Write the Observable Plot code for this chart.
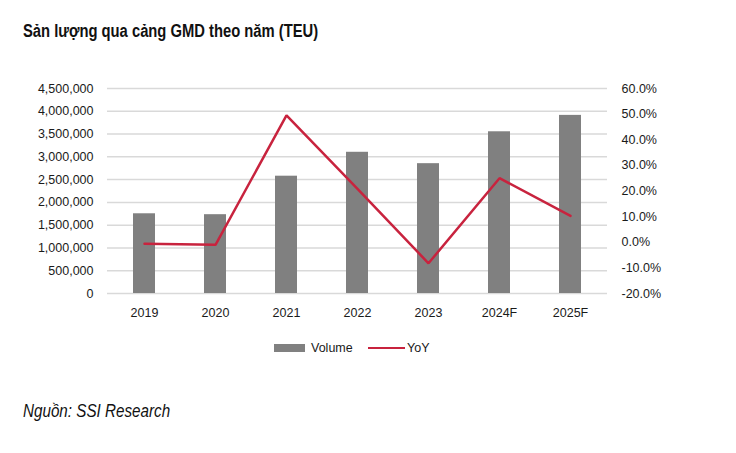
<!DOCTYPE html>
<html>
<head>
<meta charset="utf-8">
<script src="https://cdn.jsdelivr.net/npm/d3@7"></script>
<script src="https://cdn.jsdelivr.net/npm/@observablehq/plot@0.6"></script>
<style>
  html, body { margin: 0; padding: 0; background: #fff; }
  #wrap { position: relative; width: 736px; height: 453px; overflow: hidden; font-family: "Liberation Sans", Arial, sans-serif; color: #1a1a1a; }
  #title { position: absolute; left: 23px; top: 21px; font-family: "Liberation Sans", Arial, sans-serif; font-weight: bold; font-size: 18px; white-space: nowrap; color: #111; transform: scaleX(0.82); transform-origin: 0 50%; }
  #caption { position: absolute; left: 23px; top: 401px; font-family: "Liberation Sans", Arial, sans-serif; font-style: italic; font-size: 18px; white-space: nowrap; color: #111; transform: scaleX(0.845); transform-origin: 0 50%; }
  #chart { position: absolute; left: 0; top: 0; }
  .legend { position: absolute; top: 341px; font-size: 12.5px; display: flex; align-items: center; white-space: nowrap; }
  .sw-bar { display: inline-block; width: 31px; height: 8px; background: #808080; margin-right: 6px; }
  .sw-line { display: inline-block; width: 37px; height: 2.5px; background: #c8233e; margin-right: 2px; }
</style>
</head>
<body>
<div id="wrap">
  <div id="chart"></div>
  <div id="title">Sản lượng qua cảng GMD theo năm (TEU)</div>
  <div class="legend" style="left:274px"><span class="sw-bar"></span>Volume</div>
  <div class="legend" style="left:368px"><span class="sw-line"></span>YoY</div>
  <div id="caption">Nguồn: SSI Research</div>
</div>
<script>
const years = ["2019", "2020", "2021", "2022", "2023", "2024F", "2025F"];
const volume = [1750000, 1730000, 2575000, 3100000, 2850000, 3550000, 3910000];
const yoy = [-0.6, -1.0, 49.5, 20.8, -8.2, 25.0, 10.3];
const leftTicks = [0, 500000, 1000000, 1500000, 2000000, 2500000, 3000000, 3500000, 4000000, 4500000];
const rightTicks = [-20, -10, 0, 10, 20, 30, 40, 50, 60];

const VMAX = 4500000, PMIN = -20, PMAX = 60;
const toLeft = p => (p - PMIN) / (PMAX - PMIN) * VMAX;

const data = years.map((y, i) => ({year: y, volume: volume[i], yoy: yoy[i]}));

const chart = Plot.plot({
  width: 736,
  height: 453,
  marginTop: 88,
  marginBottom: 160,
  marginLeft: 107,
  marginRight: 129,
  style: { fontFamily: "'Liberation Sans', Arial, sans-serif", fontSize: "12.5px", color: "#1a1a1a", background: "transparent" },
  x: { type: "band", domain: years, paddingInner: 0.69, paddingOuter: 0.345, label: null },
  y: { domain: [0, VMAX], label: null },
  marks: [
    Plot.ruleY(leftTicks, { stroke: "#d9d9d9", strokeWidth: 1.5 }),
    Plot.barY(data, { x: "year", y: "volume", fill: "#808080" }),
    Plot.line(data, { x: "year", y: d => toLeft(d.yoy), stroke: "#c8233e", strokeWidth: 2.5, strokeLinejoin: "miter" }),
    Plot.axisY(leftTicks, { anchor: "left", tickSize: 0, tickPadding: 14, tickFormat: d => d3.format(",")(d), label: null }),
    Plot.axisY(rightTicks.map(toLeft), { anchor: "right", tickSize: 0, tickPadding: 14, tickFormat: v => (v / VMAX * (PMAX - PMIN) + PMIN).toFixed(1) + "%", label: null }),
    Plot.axisX({ tickSize: 0, tickPadding: 15, label: null })
  ]
});
document.getElementById("chart").appendChild(chart);
</script>
</body>
</html>
